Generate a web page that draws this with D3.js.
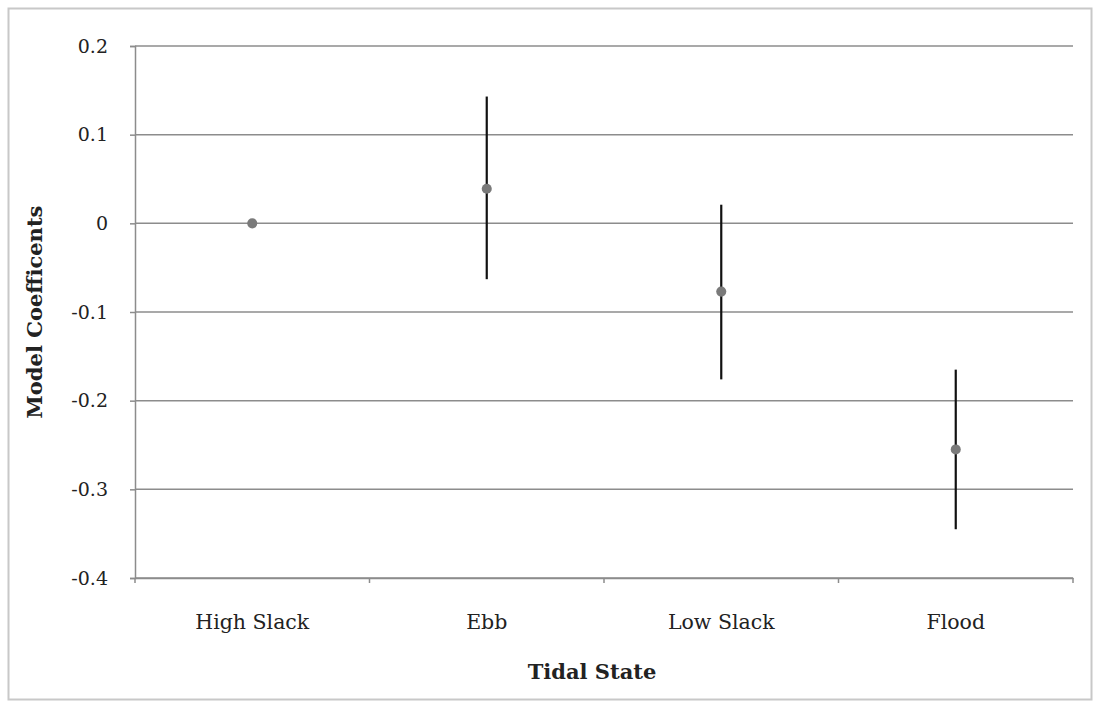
<!DOCTYPE html>
<html>
<head>
<meta charset="utf-8">
<script src="https://cdn.jsdelivr.net/npm/d3@7"></script>
<style>
  body { margin: 0; background: #fff; }
  svg { display: block; }
  text { font-family: "DejaVu Serif", serif; fill: #222; }
</style>
</head>
<body>
<div id="chart"></div>
<script>
// values
const categories = ['High Slack', 'Ebb', 'Low Slack', 'Flood'];
const coefs = [0, 0.039, -0.077, -0.255];
const upper = [0, 0.143, 0.021, -0.165];
const lower = [0, -0.063, -0.176, -0.345];
const yTicks = [0.2, 0.1, 0, -0.1, -0.2, -0.3, -0.4];
const yLabels = ['0.2', '0.1', '0', '-0.1', '-0.2', '-0.3', '-0.4'];

const width = 1101, height = 704;
const margin = { top: 46, right: 28, bottom: 126, left: 135 };
const fontFam = '"DejaVu Serif", serif';

const svg = d3.select('#chart').append('svg')
  .attr('width', width)
  .attr('height', height);

// outer chart frame
svg.append('rect')
  .attr('x', 8.5).attr('y', 8.5)
  .attr('width', 1083).attr('height', 691)
  .attr('fill', 'none')
  .attr('stroke', '#c8c8c8')
  .attr('stroke-width', 2);

let x = d3.scaleBand()
  .domain(categories)
  .range([margin.left, width - margin.right]);

let y = d3.scaleLinear()
  .domain([-0.4, 0.2])
  .range([height - margin.bottom, margin.top]);

// gridlines
svg.append('g')
  .selectAll('line')
  .data(yTicks)
  .enter()
  .append('line')
  .attr('x1', margin.left)
  .attr('x2', width - margin.right)
  .attr('y1', d => y(d))
  .attr('y2', d => y(d))
  .attr('stroke', '#8c8c8c')
  .attr('stroke-width', 1.5);

// y axis
let yAxis = g =>
  g.attr('transform', `translate(${margin.left},0)`)
    .call(d3.axisLeft(y).tickValues(yTicks).tickSize(5).tickPadding(22)
      .tickFormat((d, i) => yLabels[i]))
    .call(g => g.select('.domain').attr('stroke', '#8c8c8c').attr('stroke-width', 1.5))
    .call(g => g.selectAll('.tick line').attr('stroke', '#8c8c8c').attr('stroke-width', 1.5))
    .call(g => g.selectAll('.tick text')
      .attr('font-size', 19)
      .attr('font-family', fontFam)
      .attr('fill', '#333'));

svg.append('g').call(yAxis);

// x axis
let xAxis = g =>
  g.attr('transform', `translate(0,${height - margin.bottom})`)
    .call(d3.axisBottom(x).tickSize(0).tickPadding(36))
    .call(g => g.select('.domain').attr('stroke', '#8c8c8c').attr('stroke-width', 1.5))
    .call(g => g.selectAll('.tick text')
      .attr('font-size', 20.5)
      .attr('font-family', fontFam)
      .attr('fill', '#333'));

svg.append('g').call(xAxis);

// category boundary ticks
const bounds = categories.map(c => x(c)).concat([x.range()[1]]);
svg.append('g')
  .selectAll('line')
  .data(bounds)
  .enter()
  .append('line')
  .attr('x1', d => d).attr('x2', d => d)
  .attr('y1', y(-0.4)).attr('y2', y(-0.4) + 5)
  .attr('stroke', '#8c8c8c')
  .attr('stroke-width', 1.5);

// error bars
const pts = categories.map((c, i) => ({ cat: c, v: coefs[i], hi: upper[i], lo: lower[i] }));

svg.append('g')
  .selectAll('line')
  .data(pts.filter(d => d.hi !== d.lo))
  .enter()
  .append('line')
  .attr('x1', d => x(d.cat) + x.bandwidth() / 2)
  .attr('x2', d => x(d.cat) + x.bandwidth() / 2)
  .attr('y1', d => y(d.hi))
  .attr('y2', d => y(d.lo))
  .attr('stroke', '#111')
  .attr('stroke-width', 2.2);

// markers
svg.append('g')
  .selectAll('path')
  .data(pts)
  .enter()
  .append('path')
  .attr('transform', d => `translate(${x(d.cat) + x.bandwidth() / 2},${y(d.v)})`)
  .attr('d', d3.symbol().type(d3.symbolCircle).size(80))
  .attr('fill', '#7a7a7a');

// axis titles
svg.append('text')
  .attr('x', 592)
  .attr('y', 679)
  .attr('text-anchor', 'middle')
  .attr('font-size', 21)
  .attr('font-weight', 'bold')
  .text('Tidal State');

svg.append('text')
  .attr('transform', `translate(42,${y(-0.1)}) rotate(-90)`)
  .attr('text-anchor', 'middle')
  .attr('font-size', 21)
  .attr('font-weight', 'bold')
  .text('Model Coefficents');
</script>
</body>
</html>
